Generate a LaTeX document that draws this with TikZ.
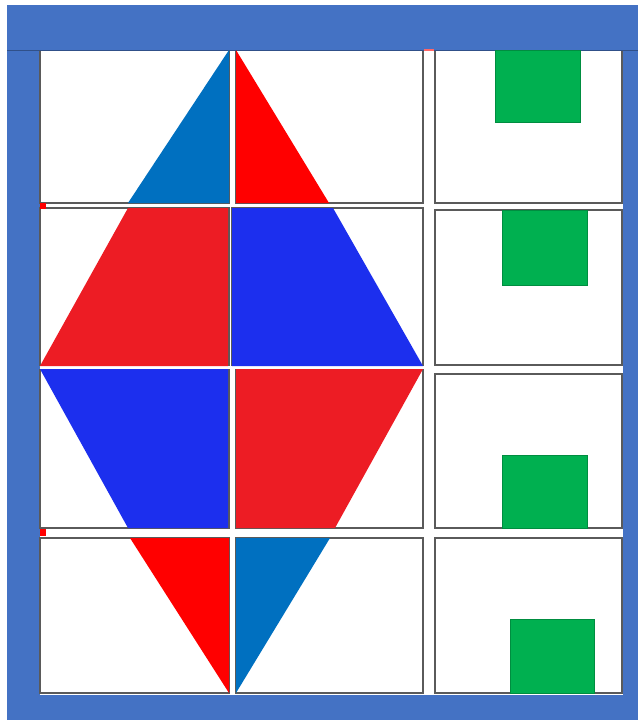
\documentclass[tikz,border=0pt]{standalone}
\usepackage{xcolor}
\definecolor{frameblue}{HTML}{4472C4}
\definecolor{triblue}{HTML}{0070C0}
\definecolor{trired}{HTML}{FF0000}
\definecolor{quadred}{HTML}{ED1C24}
\definecolor{quadblue}{HTML}{1C2FEE}
\definecolor{sqgreen}{HTML}{00B050}
\definecolor{cellgray}{HTML}{5A5A5A}
\begin{document}
\begin{tikzpicture}[x=1pt,y=-1pt,
  cellbox/.style={fill=white,draw=cellgray,line width=1.2pt},
  greensq/.style={fill=sqgreen,draw=sqgreen!80!black,line width=0.4pt},
  piece/.style={line width=0pt}]
\useasboundingbox (0,0) rectangle (638,720);
% frame
\fill[frameblue] (7,5) rectangle (638,720);
\draw[frameblue!70!black,line width=0.8pt] (7,50) -- (638,50);
\fill[white] (40,50) rectangle (623,695);
% left and middle column cells
\draw[cellbox] (40,50) rectangle (229,203);
\draw[cellbox] (236,50) rectangle (423,203);
\draw[cellbox] (40,208) rectangle (229,365);
\draw[cellbox] (232,208) rectangle (423,365);
\draw[cellbox] (40,370) rectangle (229,528);
\draw[cellbox] (236,370) rectangle (423,528);
\draw[cellbox] (40,538) rectangle (229,693);
\draw[cellbox] (236,538) rectangle (423,693);
% right column cells
\draw[cellbox] (435,50) rectangle (622,203);
\draw[cellbox] (435,210) rectangle (622,365);
\draw[cellbox] (435,374) rectangle (622,528);
\draw[cellbox] (435,538) rectangle (622,693);
% redraw top band over cell tops
\fill[frameblue] (7,5) rectangle (638,49.5);
\draw[frameblue!70!black,line width=0.8pt] (7,50) -- (638,50);
% diamond pieces
\fill[triblue] (229,50) -- (229,203) -- (128,203) -- cycle;
\fill[trired] (236,50) -- (329,203) -- (236,203) -- cycle;
\fill[quadred] (128,208) -- (228,208) -- (228,366) -- (40,366) -- cycle;
\fill[quadblue] (232,208) -- (333,208) -- (423,366) -- (232,366) -- cycle;
\fill[quadblue] (40,369) -- (228,369) -- (228,528) -- (128,528) -- cycle;
\fill[quadred] (236,369) -- (423,369) -- (335,528) -- (236,528) -- cycle;
\fill[trired] (130,538) -- (229,538) -- (229,693) -- cycle;
\fill[triblue] (236,538) -- (330,538) -- (236,693) -- cycle;
% small red marks
\fill[trired] (40,203) rectangle (46,209);
\fill[trired] (40,529) rectangle (46,536);
\fill[trired!60] (424,49) rectangle (434,51);
% green squares
\draw[greensq] (495,50) rectangle (580,122);
\draw[greensq] (502,210) rectangle (587,285);
\draw[greensq] (502,455) rectangle (587,528);
\draw[greensq] (510,619) rectangle (594,693);
\end{tikzpicture}
\end{document}
